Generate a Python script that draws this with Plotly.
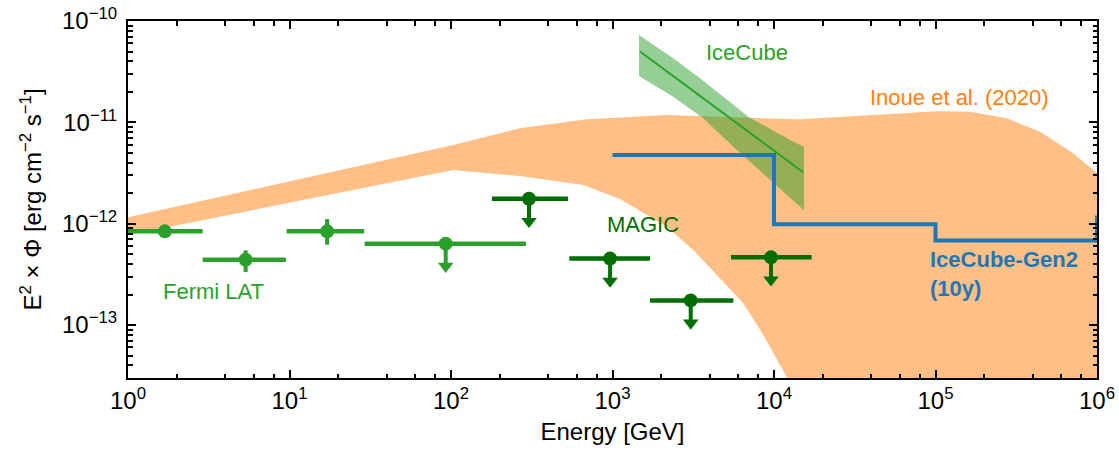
import numpy as np
import plotly.graph_objects as go

# ---------------- data ----------------
# Fermi LAT spectral points (energy in GeV, E^2 dN/dE in erg cm^-2 s^-1)
fermi_E = [1.69, 5.35, 17.1, 92.7]
fermi_E_lo = [1.0, 2.9, 9.6, 29.2]
fermi_E_hi = [2.9, 9.5, 29.0, 291.0]
fermi_flux = [8.4e-13, 4.4e-13, 8.4e-13, 6.35e-13]
fermi_flux_hi = [8.4e-13, 5.45e-13, 1.11e-12, 6.35e-13]
fermi_flux_lo = [8.4e-13, 3.34e-13, 6.2e-13, 6.35e-13]
fermi_is_ul = [False, False, False, True]

# MAGIC upper limits
magic_E = [304.0, 966.0, 3050.0, 9580.0]
magic_E_lo = [179.0, 540.0, 1708.0, 5420.0]
magic_E_hi = [530.0, 1708.0, 5600.0, 17100.0]
magic_ul = [1.76e-12, 4.52e-13, 1.75e-13, 4.65e-13]

# IceCube best fit and its uncertainty band
icecube_E = [1480.0, 15200.0]
icecube_flux = [5.0e-11, 3.2e-12]
icecube_band_hi_E = [1459.0, 2377.0, 3483.0, 6934.0, 13183.0, 15346.0]
icecube_band_hi = [7.28e-11, 4.29e-11, 2.72e-11, 1.135e-11, 6.43e-12, 5.74e-12]
icecube_band_lo_E = [1459.0, 2377.0, 3648.0, 5598.0, 9016.0, 15346.0]
icecube_band_lo = [2.86e-11, 1.79e-11, 1.096e-11, 5.74e-12, 2.90e-12, 1.36e-12]

# Inoue et al. (2020) model envelope
inoue_hi_E = [1.0, 103.0, 267.0, 692.0, 2168.0, 14500.0, 101800.0, 163800.0,
              276000.0, 443600.0, 713000.0, 1.0e6]
inoue_hi = [1.156e-12, 5.97e-12, 8.73e-12, 1.07e-11, 1.18e-11, 1.07e-11, 1.29e-11,
            1.27e-11, 1.10e-11, 8.09e-12, 4.94e-12, 3.14e-12]
inoue_lo_E = [1.0, 103.0, 267.0, 660.0, 1113.0, 2168.0, 3165.0, 4415.0, 6454.0,
              8590.0, 11990.0, 14500.0, 1.0e6]
inoue_lo = [7.73e-13, 3.39e-12, 2.95e-12, 2.41e-12, 1.75e-12, 9.33e-13, 5.50e-13,
            3.11e-13, 1.64e-13, 7.96e-14, 3.07e-14, 1.0e-14, 1.0e-14]

# IceCube-Gen2 (10 yr) differential sensitivity, one value per decade
gen2_E = [1.0e3, 1.0e4, 1.0e5, 1.0e6, 1.0e7]
gen2_flux = [4.75e-12, 9.85e-13, 6.84e-13, 1.15e-12, 1.15e-12]

# axis ticks
x_major = [1e0, 1e1, 1e2, 1e3, 1e4, 1e5, 1e6]
x_major_text = ["10<sup>0</sup>", "10<sup>1</sup>", "10<sup>2</sup>", "10<sup>3</sup>",
                "10<sup>4</sup>", "10<sup>5</sup>", "10<sup>6</sup>"]
y_major = [1e-13, 1e-12, 1e-11, 1e-10]
y_major_text = ["10<sup>\u221213</sup>", "10<sup>\u221212</sup>",
                "10<sup>\u221211</sup>", "10<sup>\u221210</sup>"]

# ---------------- styling ----------------
FONT = "Liberation Sans, Arial, Helvetica, sans-serif"
C_FERMI = "#2ca02c"
C_MAGIC = "#006e00"
C_INOUE = "#ff7f0e"
C_GEN2 = "#1f77b4"
UL_DROP = 0.222  # length of the upper-limit arrow, in decades

fig = go.Figure()

# model envelope
fig.add_trace(go.Scatter(
    x=inoue_hi_E + inoue_lo_E[::-1],
    y=inoue_hi + inoue_lo[::-1],
    fill="toself", fillcolor="rgba(255,127,14,0.5)",
    mode="lines", line=dict(width=0), hoverinfo="skip", showlegend=False))

# IceCube band and best fit
fig.add_trace(go.Scatter(
    x=icecube_band_hi_E + icecube_band_lo_E[::-1],
    y=icecube_band_hi + icecube_band_lo[::-1],
    fill="toself", fillcolor="rgba(44,160,44,0.5)",
    mode="lines", line=dict(width=0), hoverinfo="skip", showlegend=False))
fig.add_trace(go.Scatter(
    x=icecube_E, y=icecube_flux, mode="lines",
    line=dict(color=C_FERMI, width=2), showlegend=False))

# IceCube-Gen2 sensitivity steps
fig.add_trace(go.Scatter(
    x=gen2_E, y=gen2_flux, mode="lines", line_shape="hv",
    line=dict(color=C_GEN2, width=4), showlegend=False))


def add_points(E, E_lo, E_hi, flux, f_hi, f_lo, is_ul, color):
    E = np.asarray(E)
    flux = np.asarray(flux)
    is_ul = np.asarray(is_ul)
    ul_tip = flux * 10 ** (-UL_DROP)
    err_plus = np.where(is_ul, 0.0, np.asarray(f_hi) - flux)
    err_minus = np.where(is_ul, flux - ul_tip, flux - np.asarray(f_lo))
    # vertical error bars / upper-limit stems
    fig.add_trace(go.Scatter(
        x=E, y=flux, mode="markers", marker=dict(size=1, color=color, opacity=0),
        error_y=dict(type="data", symmetric=False, array=err_plus, arrayminus=err_minus,
                     color=color, thickness=4, width=0),
        showlegend=False, hoverinfo="skip"))
    # energy bins
    fig.add_trace(go.Scatter(
        x=E, y=flux, mode="markers", marker=dict(size=14, color=color),
        error_x=dict(type="data", symmetric=False,
                     array=np.asarray(E_hi) - E, arrayminus=E - np.asarray(E_lo),
                     color=color, thickness=4.5, width=0),
        showlegend=False))
    # arrow heads for upper limits
    if is_ul.any():
        fig.add_trace(go.Scatter(
            x=E[is_ul], y=ul_tip[is_ul], mode="markers",
            marker=dict(symbol="triangle-down", size=13.5, color=color, line=dict(width=0)),
            showlegend=False, hoverinfo="skip"))


add_points(fermi_E, fermi_E_lo, fermi_E_hi, fermi_flux, fermi_flux_hi, fermi_flux_lo,
           fermi_is_ul, C_FERMI)
add_points(magic_E, magic_E_lo, magic_E_hi, magic_ul, magic_ul, magic_ul,
           [True] * len(magic_ul), C_MAGIC)

# text labels (positions in log10 units)
labels = [
    dict(x=3.830, y=-10.306, text="IceCube", color=C_FERMI, xanchor="center"),
    dict(x=5.147, y=-10.753, text="Inoue et al. (2020)", color=C_INOUE, xanchor="center"),
    dict(x=3.191, y=-12.006, text="MAGIC", color=C_MAGIC, xanchor="center"),
    dict(x=0.529, y=-12.665, text="Fermi LAT", color=C_FERMI, xanchor="center"),
    dict(x=4.955, y=-12.499, text="<b>IceCube-Gen2<br>(10y)</b>", color=C_GEN2, xanchor="left"),
]
for lb in labels:
    fig.add_annotation(x=lb["x"], y=lb["y"], xref="x", yref="y", text=lb["text"],
                       showarrow=False, xanchor=lb["xanchor"], yanchor="middle", align="left",
                       font=dict(family=FONT, size=22, color=lb["color"]))

x_minor = [m * 10 ** d for d in range(0, 6) for m in (2, 4, 6, 8)]
y_minor = [m * 10.0 ** d for d in range(-14, -10) for m in range(2, 10)]

axis_common = dict(
    showline=True, linecolor="black", linewidth=2, mirror="allticks",
    ticks="inside", ticklen=8, tickwidth=1.5, tickcolor="black",
    showgrid=False, zeroline=False, automargin=False,
    tickfont=dict(family=FONT, size=24, color="black"),
)

fig.update_xaxes(
    type="log", range=[0, 6], tickmode="array", tickvals=x_major, ticktext=x_major_text,
    minor=dict(tickmode="array", tickvals=x_minor, ticks="inside", ticklen=4.5,
               tickwidth=1.5, tickcolor="black", showgrid=False),
    title=dict(text="Energy [GeV]", font=dict(family=FONT, size=24, color="black"), standoff=10),
    **axis_common)
fig.update_yaxes(
    type="log", range=[np.log10(3e-14), -10], tickmode="array", tickvals=y_major,
    ticktext=y_major_text, ticklabelstandoff=4,
    minor=dict(tickmode="array", tickvals=y_minor, ticks="inside", ticklen=4.5,
               tickwidth=1.5, tickcolor="black", showgrid=False),
    title=dict(text="E<sup>2</sup> \u00d7 \u03a6 [erg cm<sup>\u22122</sup> s<sup>\u22121</sup>]",
               font=dict(family=FONT, size=24, color="black"), standoff=14),
    **axis_common)

fig.update_layout(
    width=1119, height=457,
    margin=dict(l=128, r=22, t=21, b=79),
    paper_bgcolor="white", plot_bgcolor="white",
    showlegend=False,
)

fig.write_html("out.html")
